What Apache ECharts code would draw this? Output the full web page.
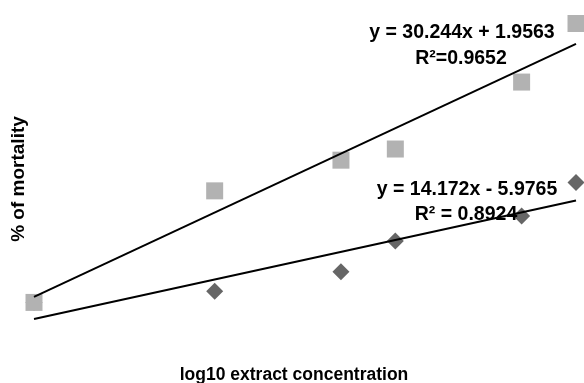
<!DOCTYPE html>
<html>
<head>
<meta charset="utf-8">
<script src="https://cdn.jsdelivr.net/npm/echarts@6/dist/echarts.min.js"></script>
<style>
  html, body { margin: 0; padding: 0; background: #fff; }
  #chart { width: 584px; height: 383px; }
</style>
</head>
<body>
<div id="chart"></div>
<script>
// log10 of extract concentration
const logConc = [0, 1, 1.699, 2, 2.699, 3];
// % of mortality
const mortalityA = [0, 4, 11, 22, 31, 43];     // diamonds
const mortalityB = [0, 40, 51, 55, 79, 100];   // squares
// trend lines (slope, intercept) as printed on the chart
const trendA = [14.172, -5.9765];
const trendB = [30.244, 1.9563];
const labelA = ['y = 14.172x - 5.9765', 'R² = 0.8924'];
const labelB = ['y = 30.244x + 1.9563', 'R²=0.9652'];

const chartDom = document.getElementById('chart');
const chart = echarts.init(chartDom);

const pts = function (ys) {
    return logConc.map(function (x, i) { return [x, ys[i]]; });
};
const line = function (t) {
    const x0 = Math.min.apply(null, logConc);
    const x1 = Math.max.apply(null, logConc);
    return [[x0, t[0] * x0 + t[1]], [x1, t[0] * x1 + t[1]]];
};

const eqStyle = {
    fontFamily: 'Liberation Sans, Arial, sans-serif',
    fontWeight: 'bold',
    fontSize: 19.5,
    fill: '#000',
    textAlign: 'center',
    textVerticalAlign: 'middle'
};

const option = {
    animation: false,
    grid: { left: 34, right: 8, top: 23.5, bottom: 48.5, outerBoundsMode: 'none' },
    xAxis: {
        type: 'value',
        min: 0,
        max: 3,
        name: 'log10 extract concentration',
        nameLocation: 'middle',
        nameGap: 32,
        nameTextStyle: {
            fontFamily: 'Liberation Sans, Arial, sans-serif',
            fontWeight: 'bold',
            fontSize: 17.5,
            color: '#000',
            padding: [0, 22, 0, 0]
        },
        axisLine: { show: false },
        axisTick: { show: false },
        axisLabel: { show: false },
        splitLine: { show: false }
    },
    yAxis: {
        type: 'value',
        min: -11.5,
        max: 100,
        name: '% of mortality',
        nameLocation: 'middle',
        nameGap: 6,
        nameTextStyle: {
            fontFamily: 'Liberation Sans, Arial, sans-serif',
            fontWeight: 'bold',
            fontSize: 19,
            color: '#000'
        },
        axisLine: { show: false },
        axisTick: { show: false },
        axisLabel: { show: false },
        splitLine: { show: false }
    },
    series: [{
        type: 'scatter',
        data: pts(mortalityA),
        symbol: 'diamond',
        symbolSize: 17,
        itemStyle: { color: '#666666', opacity: 1 },
        z: 2
    }, {
        type: 'scatter',
        data: pts(mortalityB),
        symbol: 'rect',
        symbolSize: 17,
        itemStyle: { color: '#b2b2b2', opacity: 1 },
        z: 3
    }, {
        type: 'line',
        data: line(trendA),
        symbol: 'none',
        lineStyle: { color: '#000', width: 2 },
        z: 4
    }, {
        type: 'line',
        data: line(trendB),
        symbol: 'none',
        lineStyle: { color: '#000', width: 2 },
        z: 4
    }],
    graphic: [
        { type: 'text', x: 462, y: 33, style: Object.assign({ text: labelB[0] }, eqStyle), z: 10 },
        { type: 'text', x: 461, y: 59, style: Object.assign({ text: labelB[1] }, eqStyle), z: 10 },
        { type: 'text', x: 467, y: 190, style: Object.assign({ text: labelA[0] }, eqStyle), z: 10 },
        { type: 'text', x: 466, y: 215, style: Object.assign({ text: labelA[1] }, eqStyle), z: 10 }
    ]
};

option && chart.setOption(option);
</script>
</body>
</html>
